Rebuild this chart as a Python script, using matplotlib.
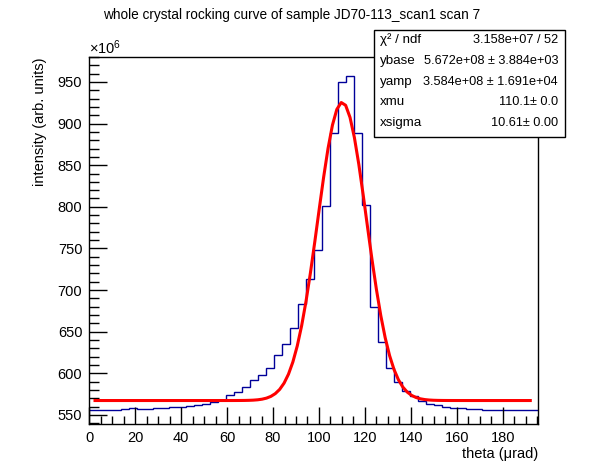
import numpy as np
import matplotlib.pyplot as plt
from matplotlib.ticker import MultipleLocator

plt.rcParams["font.family"] = ["Liberation Sans", "DejaVu Sans"]
plt.rcParams["mathtext.fontset"] = "custom"
plt.rcParams["mathtext.rm"] = "Liberation Sans"
plt.rcParams["mathtext.it"] = "Liberation Sans"

# histogram (intensity in units of 1e6), 56 bins over 0 .. 195.5 urad
x_min, x_max = 0.0, 195.5
counts = [
    556.0, 556.0, 556.0, 556.0, 557.2, 558.4, 557.0, 557.0,
    558.4, 558.4, 559.6, 559.6, 561.0, 562.0, 563.2, 564.9,
    567.6, 573.6, 577.2, 583.4, 591.6, 597.7, 606.0, 622.0,
    634.9, 654.2, 682.8, 712.7, 748.6, 800.6, 888.4, 950.4,
    957.6, 888.4, 801.6, 679.3, 637.3, 606.0, 589.2, 578.5,
    572.5, 566.8, 563.6, 561.6, 559.2, 558.0, 558.0, 556.8,
    556.8, 555.6, 555.6, 555.6, 555.6, 555.6, 555.6, 555.6,
]

# fit parameters from the stats box
ybase = 567.2
yamp = 358.4
xmu = 110.1
xsigma = 10.61
fit_lo, fit_hi = 2.5, 192.0

stat_names = ["χ² / ndf", "ybase", "yamp", "xmu", "xsigma"]
stat_values = ["3.158e+07 / 52", "5.672e+08 ± 3.884e+03",
               "3.584e+08 ± 1.691e+04", "110.1± 0.0", "10.61± 0.00"]

edges = np.linspace(x_min, x_max, len(counts) + 1)

fig = plt.figure(figsize=(5.98, 4.74), dpi=100)
ax = fig.add_axes([0.1493, 0.1055, 0.9002 - 0.1493, 0.8797 - 0.1055])

ax.stairs(counts, edges, color="#000099", linewidth=1.0, baseline=None)

xf = np.linspace(fit_lo, fit_hi, 100)
yf = ybase + yamp * np.exp(-0.5 * ((xf - xmu) / xsigma) ** 2)
ax.plot(xf, yf, color="red", linewidth=2.2)

ax.set_xlim(x_min, x_max)
ax.set_ylim(539, 980)

ax.xaxis.set_major_locator(MultipleLocator(20))
ax.xaxis.set_minor_locator(MultipleLocator(5))
ax.yaxis.set_major_locator(MultipleLocator(50))
ax.yaxis.set_minor_locator(MultipleLocator(10))
ax.tick_params(which="both", direction="in", top=False, right=False,
               labelsize=10.5, width=1, pad=5)
ax.tick_params(axis="y", which="major", length=13)
ax.tick_params(axis="y", which="minor", length=7)
ax.tick_params(axis="x", which="major", length=12)
ax.tick_params(axis="x", which="minor", length=6)
for s in ax.spines.values():
    s.set_linewidth(1.0)

fig.text(89 / 598, 1 - 54 / 474, "×10$^{6}$", fontsize=10.5, ha="left",
         va="baseline")
fig.text(292 / 598, 1 - 19.3 / 474,
         "whole crystal rocking curve of sample JD70-113_scan1 scan 7",
         fontsize=9.8, ha="center", va="baseline")
fig.text(538 / 598, 1 - 458 / 474, "theta (μrad)", fontsize=10.5,
         ha="right", va="baseline")
fig.text(40 / 598, 1 - 57 / 474, "intensity (arb. units)", fontsize=10.5,
         ha="center", va="top", rotation=90)

# stats box
box = plt.Rectangle((374 / 598, 1 - 137 / 474), (565 - 374) / 598,
                    (137 - 30) / 474, transform=fig.transFigure,
                    facecolor="white", edgecolor="black", linewidth=1.0)
fig.add_artist(box)
for i, (name, val) in enumerate(zip(stat_names, stat_values)):
    yy = 1 - (40 + i * 20.8) / 474
    fig.text(380 / 598, yy, name, fontsize=9.6, ha="left", va="center")
    fig.text(558 / 598, yy, val, fontsize=9.2, ha="right", va="center")

fig.savefig("out.png", dpi=100)
